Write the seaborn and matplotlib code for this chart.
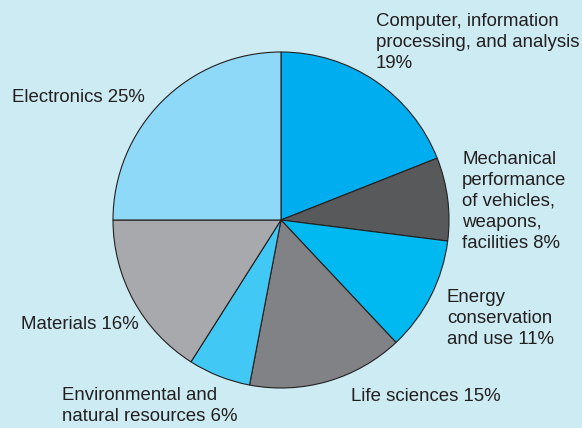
import matplotlib
matplotlib.use("Agg")
import matplotlib.pyplot as plt
import seaborn as sns

# Data
categories = [
    "Computer, information\nprocessing, and analysis\n19%",
    "Mechanical\nperformance\nof vehicles,\nweapons,\nfacilities 8%",
    "Energy\nconservation\nand use 11%",
    "Life sciences 15%",
    "Environmental and\nnatural resources 6%",
    "Materials 16%",
    "Electronics 25%",
]
shares = [19, 8, 11, 15, 6, 16, 25]
slice_colors = ["#00aeef", "#58595b", "#00b9f1", "#808285",
                "#41c8f4", "#a7a9ac", "#8ed8f8"]

# label anchor points (pixel coords, top-left of text)
label_pos = [(376, 13), (462, 151), (447, 289), (351, 388),
             (62, 387), (21, 316), (12, 89)]

sns.set_style("white")
plt.rcParams["font.family"] = ["Liberation Sans", "DejaVu Sans"]

W, H = 582, 428
bg = "#cdebf3"
fig = plt.figure(figsize=(W / 100, H / 100), dpi=100, facecolor=bg)
ax = fig.add_axes([0, 0, 1, 1])
ax.set_facecolor(bg)

ax.pie(shares, colors=sns.color_palette(slice_colors), startangle=90,
       counterclock=False, center=(281, H - 220), radius=168,
       wedgeprops=dict(edgecolor="#231f20", linewidth=0.8))

for text, (x, y) in zip(categories, label_pos):
    ax.text(x, H - y, text, ha="left", va="top", fontsize=13.4,
            color="#231f20", linespacing=1.3)

ax.set_xlim(0, W)
ax.set_ylim(0, H)
ax.set_aspect("equal")
ax.axis("off")

fig.savefig("out.png", dpi=100, facecolor=bg)
